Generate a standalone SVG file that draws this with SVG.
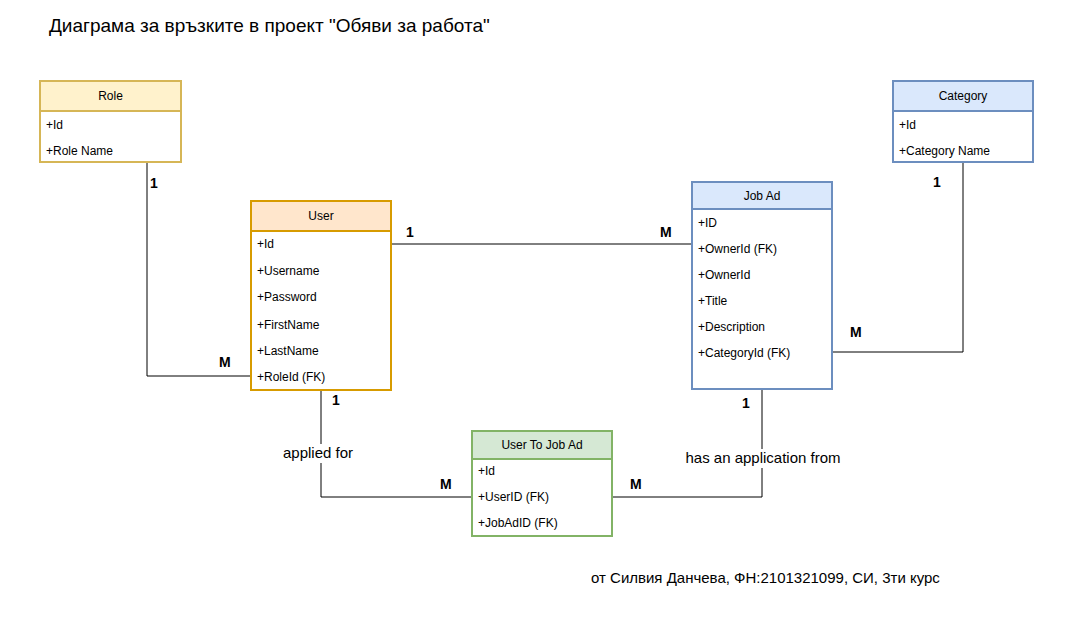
<svg xmlns="http://www.w3.org/2000/svg" width="1066" height="638" viewBox="0 0 1066 638">
<style>
text{font-family:"Liberation Sans",Arial,sans-serif;fill:#000}
.f{font-size:12px}
.h{font-size:12px;text-anchor:middle}
.m{font-size:14px;font-weight:bold}
.l{font-size:15px;text-anchor:middle}
.c{fill:none;stroke:#000;stroke-width:1}
.box{stroke-width:2}
.yel{fill:#fff2cc;stroke:#d6b656}
.org{fill:#ffe6cc;stroke:#d79b00}
.blu{fill:#dae8fc;stroke:#6c8ebf}
.grn{fill:#d5e8d4;stroke:#82b366}
</style>
<rect width="1066" height="638" fill="#fff"/>
<text x="49" y="32" style="font-size:19px">Диаграма за връзките в проект "Обяви за работа"</text>
<g id="connectors">
<path class="c" d="M147 162V376H251"/>
<path class="c" d="M391 244H692"/>
<path class="c" d="M963 162V352H832"/>
<path class="c" d="M321 390V497H472"/>
<path class="c" d="M762 389V497H612"/>
<rect x="280" y="444" width="78" height="19" fill="#fff"/>
<text class="l" x="318" y="458">applied for</text>
<rect x="682" y="449" width="162" height="19" fill="#fff"/>
<text class="l" x="763" y="463">has an application from</text>
<text class="m" x="150" y="188">1</text>
<text class="m" x="219" y="367">M</text>
<text class="m" x="406" y="237">1</text>
<text class="m" x="660" y="237">M</text>
<text class="m" x="933" y="187">1</text>
<text class="m" x="850" y="337">M</text>
<text class="m" x="332" y="405">1</text>
<text class="m" x="440" y="489">M</text>
<text class="m" x="742" y="408">1</text>
<text class="m" x="630" y="489">M</text>
</g>
<g id="role">
<rect class="box yel" x="40" y="81" width="141" height="81" style="fill:#fff"/>
<rect class="box yel" x="40" y="81" width="141" height="30"/>
<text class="h" x="110.5" y="100">Role</text>
<text class="f" x="46" y="129">+Id</text>
<text class="f" x="46" y="155">+Role Name</text>
</g>
<g id="user">
<rect class="box org" x="251" y="201" width="140" height="189" style="fill:#fff"/>
<rect class="box org" x="251" y="201" width="140" height="30"/>
<text class="h" x="321" y="220">User</text>
<text class="f" x="257" y="248">+Id</text>
<text class="f" x="257" y="275">+Username</text>
<text class="f" x="257" y="301">+Password</text>
<text class="f" x="257" y="329">+FirstName</text>
<text class="f" x="257" y="355">+LastName</text>
<text class="f" x="257" y="381">+RoleId (FK)</text>
</g>
<g id="jobad">
<rect class="box blu" x="692" y="182" width="140" height="207" style="fill:#fff"/>
<rect class="box blu" x="692" y="182" width="140" height="27"/>
<text class="h" x="762" y="200">Job Ad</text>
<text class="f" x="698" y="227">+ID</text>
<text class="f" x="698" y="253">+OwnerId (FK)</text>
<text class="f" x="698" y="279">+OwnerId</text>
<text class="f" x="698" y="305">+Title</text>
<text class="f" x="698" y="331">+Description</text>
<text class="f" x="698" y="357">+CategoryId (FK)</text>
</g>
<g id="category">
<rect class="box blu" x="893" y="81" width="140" height="81" style="fill:#fff"/>
<rect class="box blu" x="893" y="81" width="140" height="30"/>
<text class="h" x="963" y="100">Category</text>
<text class="f" x="899" y="129">+Id</text>
<text class="f" x="899" y="155">+Category Name</text>
</g>
<g id="usertojobad">
<rect class="box grn" x="472" y="431" width="140" height="105" style="fill:#fff"/>
<rect class="box grn" x="472" y="431" width="140" height="28"/>
<text class="h" x="542" y="449">User To Job Ad</text>
<text class="f" x="478" y="475">+Id</text>
<text class="f" x="478" y="501">+UserID (FK)</text>
<text class="f" x="478" y="527">+JobAdID (FK)</text>
</g>
<text x="591" y="583" style="font-size:15px">от Силвия Данчева, ФН:2101321099, СИ, 3ти курс</text>
</svg>
